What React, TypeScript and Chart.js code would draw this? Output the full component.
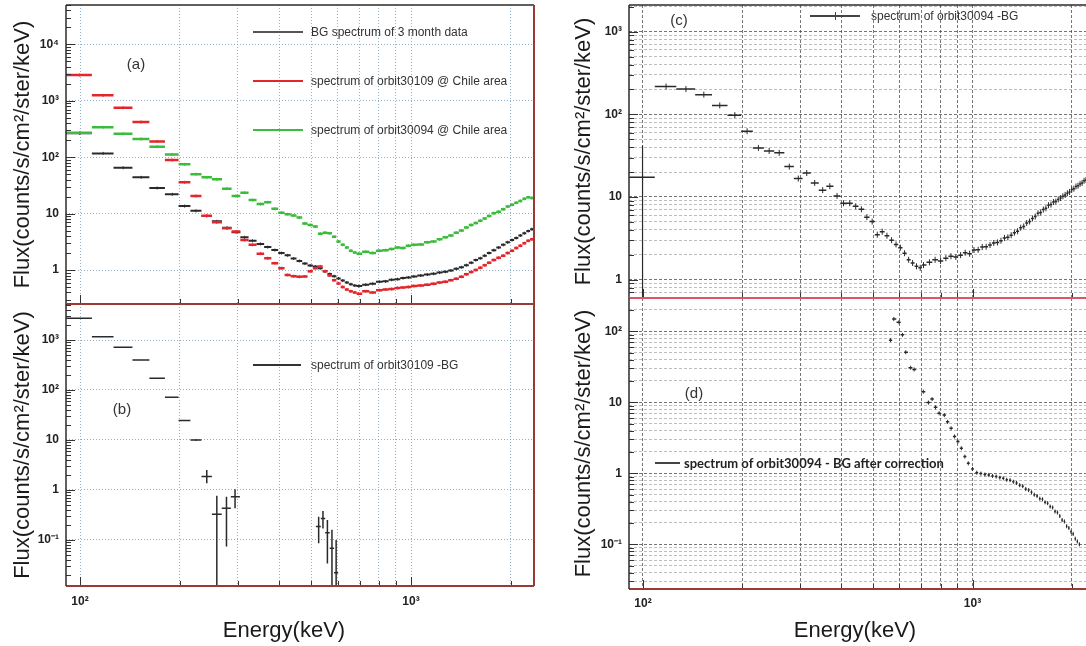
import React, { useEffect, useRef } from 'react';
import { Chart, registerables } from 'chart.js';

Chart.register(...registerables);

// ---------------- data ----------------
// Panel (a): bin centres (keV) shared by the three spectra
const energyA = [99.7, 117.5, 135, 153, 171, 190, 207, 224, 241.5, 259, 278, 296, 314, 332, 351, 369, 388, 406, 424, 442, 460, 478, 496, 514, 532, 550, 568, 586, 604, 622, 640, 658, 676, 694,
  730, 766, 802, 838, 874, 910, 946, 982, 1020, 1070, 1120, 1170, 1220, 1270, 1320, 1370, 1420, 1470, 1520, 1570, 1620, 1670, 1720, 1780, 1840, 1900, 1960, 2020, 2080, 2140, 2200, 2260, 2320];
const bgFlux = [265, 117, 65, 44, 28.4, 22, 13.6, 11.2, 9.1, 7.3, 5.6, 4.7, 3.8, 3.3, 2.9, 2.55, 2.26, 2.0, 1.82, 1.6, 1.45, 1.3, 1.2, 1.15, 1.08, 0.95, 0.85, 0.78, 0.71, 0.65, 0.6, 0.56, 0.53, 0.52,
  0.55, 0.57, 0.62, 0.63, 0.67, 0.69, 0.72, 0.74, 0.77, 0.8, 0.83, 0.86, 0.9, 0.93, 0.98, 1.05, 1.12, 1.22, 1.35, 1.5, 1.62, 1.8, 2.0, 2.25, 2.5, 2.8, 3.1, 3.4, 3.7, 4.1, 4.5, 4.9, 5.3];
const orbit30109Flux = [2870, 1250, 755, 421, 191, 89, 36, 20.5, 9.2, 7.0, 5.5, 4.8, 3.4, 2.8, 1.95, 1.62, 1.32, 1.08, 0.82, 0.78, 0.76, 0.77, 0.95, 1.08, 1.16, 0.95, 0.8, 0.66, 0.58, 0.5, 0.45, 0.42, 0.4, 0.38,
  0.42, 0.4, 0.44, 0.45, 0.46, 0.48, 0.49, 0.5, 0.52, 0.53, 0.55, 0.57, 0.6, 0.62, 0.66, 0.7, 0.76, 0.84, 0.92, 1.0, 1.1, 1.22, 1.35, 1.5, 1.65, 1.8, 2.0, 2.2, 2.45, 2.7, 3.0, 3.3, 3.5];
const orbit30094Flux = [272, 339, 261, 210, 153, 112, 75, 50, 44, 40.6, 27.7, 20.5, 23.5, 17.4, 14.8, 15.9, 12.2, 10.4, 9.8, 9.3, 8.5, 6.7, 6.3, 5.9, 4.4, 4.6, 4.5, 3.9, 3.2, 2.8, 2.5, 2.2, 2.05, 1.95,
  2.1, 2.0, 2.2, 2.25, 2.35, 2.5, 2.45, 2.7, 2.8, 2.85, 3.1, 3.2, 3.5, 3.8, 4.1, 4.6, 5.0, 5.7, 6.3, 6.8, 7.5, 8.2, 9.1, 10.2, 10.8, 12.0, 13.4, 14.4, 15.6, 16.8, 18.3, 19.5, 19.0];

// Panel (b): orbit30109 - BG
const energyB = [99.7, 117.5, 135, 153, 171, 190, 207, 224, 241.5, 259, 277, 294, 526, 542, 559, 577, 594];
const diff30109Flux = [2720, 1165, 713, 398, 171, 71.4, 24.4, 10, 1.85, 0.326, 0.43, 0.735, 0.185, 0.27, 0.14, 0.068, 0.022];
const diff30109Low = [2720, 1165, 713, 398, 171, 71.4, 24.4, 9.6, 1.36, 0.005, 0.074, 0.43, 0.086, 0.17, 0.034, 0.005, 0.005];
const diff30109High = [2720, 1165, 713, 398, 171, 71.4, 24.4, 10.4, 2.5, 0.77, 0.735, 1.03, 0.29, 0.38, 0.25, 0.16, 0.1];

// Panel (c): orbit30094 - BG
const energyC = [99.7, 117.5, 135, 153, 171, 190, 207, 224, 241.5, 259, 278, 296, 314, 332, 351, 369, 388, 406, 424, 442, 460, 478, 496, 514, 532, 550, 568, 586, 604, 622, 640, 658, 676, 694,
  710, 740, 770, 800, 830, 860, 890, 920, 950, 980, 1010, 1040, 1070, 1100, 1130, 1160, 1190, 1220, 1250, 1280, 1310, 1340, 1370, 1400, 1430, 1460, 1490, 1520, 1550, 1580, 1610, 1640, 1670, 1700,
  1730, 1760, 1790, 1820, 1850, 1880, 1910, 1940, 1970, 2000, 2030, 2060, 2090, 2120, 2150, 2180, 2210, 2240, 2270, 2300, 2330];
const diff30094Flux = [17.3, 217, 202, 173, 128, 97.7, 62.4, 39.2, 36, 34.2, 23.3, 16.7, 19.5, 14.8, 12.1, 13.5, 10.3, 8.4, 8.4, 7.7, 7.1, 5.7, 5.05, 3.5, 3.8, 3.4, 3.0, 2.67, 2.44, 2.09, 1.74, 1.59, 1.45, 1.39,
  1.5, 1.62, 1.74, 1.68, 1.82, 1.92, 1.88, 1.98, 2.12, 2.06, 2.28, 2.3, 2.48, 2.5, 2.62, 2.78, 2.82, 2.96, 3.2, 3.25, 3.45, 3.7, 3.85, 4.25, 4.4, 4.85, 5.05, 5.5, 5.8, 6.35, 6.5, 7.05, 7.3, 7.95,
  8.1, 8.7, 8.8, 9.35, 9.7, 10.2, 10.6, 11.1, 11.5, 12.3, 12.6, 13.4, 13.7, 14.4, 14.8, 15.7, 16.1, 16.9, 17.3, 18.1, 18.6];
const diff30094ErrEnergy = [99.7];
const diff30094ErrLow = [0.3];
const diff30094ErrHigh = [42];

// Panel (d): orbit30094 - BG after correction
const energyD = [564, 577, 598, 613, 627, 649, 665, 709, 735, 754, 772, 792, 821, 840, 861, 882, 903, 925, 948, 971,
  1000, 1030, 1060, 1090, 1120, 1150, 1180, 1210, 1240, 1270, 1300, 1330, 1360, 1390, 1420, 1450, 1480, 1510, 1540, 1570,
  1600, 1630, 1660, 1690, 1720, 1750, 1780, 1810, 1840, 1870, 1900, 1930, 1960, 1990, 2020, 2050, 2080, 2110];
const corrected30094Flux = [75, 149, 134, 89, 50.6, 30.7, 29, 14.1, 9.9, 11.1, 8.5, 7.0, 6.6, 5.3, 4.3, 3.3, 2.8, 2.25, 1.72, 1.38,
  1.15, 1.02, 0.99, 0.96, 0.95, 0.92, 0.9, 0.87, 0.85, 0.81, 0.8, 0.76, 0.73, 0.68, 0.66, 0.6, 0.58, 0.54, 0.5, 0.48,
  0.44, 0.43, 0.39, 0.38, 0.34, 0.33, 0.29, 0.28, 0.25, 0.22, 0.21, 0.18, 0.17, 0.15, 0.14, 0.12, 0.11, 0.1];

// axes
const xGridValues = [100, 200, 300, 400, 500, 600, 700, 800, 900, 1000, 2000];
const xTickLabels: Record<string, string> = { '100': '10²', '1000': '10³' };
const yDecadeLabels: Record<string, string> = { '0.1': '10⁻¹', '1': '1', '10': '10', '100': '10²', '1000': '10³', '10000': '10⁴' };
const yTicksA = [1, 10, 100, 1000, 10000];
const yTicksB = [0.1, 1, 10, 100, 1000];
const yTitle = 'Flux(counts/s/cm²/ster/keV)';
const xTitle = 'Energy(keV)';

// ---------------- helpers ----------------
const FONT = '"Liberation Sans", Arial, Helvetica, sans-serif';
const X_MIN = 90.7;
const X_MAX = 2353;

function isDecade(v: number) {
  const l = Math.log10(v);
  return Math.abs(l - Math.round(l)) < 1e-9;
}

function logGridValues(min: number, max: number): number[] {
  const out: number[] = [];
  for (let e = Math.floor(Math.log10(min)); e <= Math.ceil(Math.log10(max)); e++) {
    for (let k = 1; k <= 9; k++) {
      const v = k * Math.pow(10, e);
      if (v >= min && v <= max) out.push(v);
    }
  }
  return out;
}

function binSegments(energy: number[], flux: number[], maxHalf: number) {
  const pts: { x: number; y: number | null }[] = [];
  for (let i = 0; i < energy.length; i++) {
    const prev = i > 0 ? energy[i - 1] : null;
    const next = i < energy.length - 1 ? energy[i + 1] : null;
    let lo = prev !== null ? (energy[i] - prev) / 2 : ((next as number) - energy[i]) / 2;
    let hi = next !== null ? (next - energy[i]) / 2 : lo;
    lo = Math.min(lo, maxHalf);
    hi = Math.min(hi, maxHalf);
    pts.push({ x: energy[i] - lo, y: flux[i] }, { x: energy[i] + hi, y: flux[i] }, { x: energy[i] + hi, y: null });
  }
  return pts;
}

function errorSegments(energy: number[], low: number[], high: number[]) {
  const pts: { x: number; y: number | null }[] = [];
  for (let i = 0; i < energy.length; i++) {
    if (high[i] <= low[i]) continue;
    pts.push({ x: energy[i], y: low[i] }, { x: energy[i], y: high[i] }, { x: energy[i], y: null });
  }
  return pts;
}

function segDataset(energy: number[], flux: number[], maxHalf: number, color: string, width: number) {
  return {
    type: 'line' as const,
    data: binSegments(energy, flux, maxHalf),
    borderColor: color,
    borderWidth: width,
    pointRadius: 0,
    spanGaps: false,
    fill: false,
    tension: 0,
  };
}

function errDataset(energy: number[], low: number[], high: number[], color: string, width: number) {
  return {
    type: 'line' as const,
    data: errorSegments(energy, low, high),
    borderColor: color,
    borderWidth: width,
    pointRadius: 0,
    spanGaps: false,
    fill: false,
    tension: 0,
  };
}

function markDataset(energy: number[], flux: number[], color: string, radius: number) {
  return {
    type: 'line' as const,
    data: energy.map((e, i) => ({ x: e, y: flux[i] })),
    showLine: false,
    pointStyle: 'line' as const,
    rotation: 90,
    pointRadius: radius,
    borderColor: color,
    pointBorderColor: color,
    pointBorderWidth: 1,
  };
}

const framePlugin = {
  id: 'frame',
  afterDraw(chart: any, _args: any, opts: any) {
    const { ctx, chartArea: a } = chart;
    const line = (c: any, x1: number, y1: number, x2: number, y2: number) => {
      if (!c) return;
      ctx.save();
      ctx.strokeStyle = c[0];
      ctx.lineWidth = c[1];
      ctx.beginPath();
      ctx.moveTo(x1, y1);
      ctx.lineTo(x2, y2);
      ctx.stroke();
      ctx.restore();
    };
    line(opts.top, a.left, a.top, a.right, a.top);
    line(opts.right, a.right, a.top, a.right, a.bottom);
    line(opts.bottom, a.left, a.bottom, a.right, a.bottom);
    line(opts.left, a.left, a.top, a.left, a.bottom);
  },
};

const innerTicksPlugin = {
  id: 'innerTicks',
  afterDatasetsDraw(chart: any, _args: any, opts: any) {
    const { ctx, chartArea: a } = chart;
    const y = chart.scales.y;
    const x = chart.scales.x;
    ctx.save();
    ctx.strokeStyle = opts.color || '#333';
    ctx.lineWidth = 1;
    for (const v of logGridValues(y.min, y.max)) {
      const py = Math.round(y.getPixelForValue(v)) + 0.5;
      const len = isDecade(v) ? 9 : 5;
      ctx.beginPath();
      ctx.moveTo(a.left, py);
      ctx.lineTo(a.left + len, py);
      ctx.stroke();
    }
    for (const v of logGridValues(x.min, x.max)) {
      const px = Math.round(x.getPixelForValue(v)) + 0.5;
      const len = isDecade(v) ? 9 : 5;
      ctx.beginPath();
      ctx.moveTo(px, a.bottom);
      ctx.lineTo(px, a.bottom - len);
      ctx.stroke();
    }
    ctx.restore();
  },
};

interface PanelOpts {
  datasets: any[];
  yMin: number;
  yMax: number;
  yTicks: number[];
  padTop: number;
  xHeight: number;
  showX: boolean;
  xPad: number;
  titlePad: number;
  dense: boolean;
  frame: any;
}

function makeConfig(p: PanelOpts): any {
  const gridA = 'rgba(105,150,180,0.75)';
  const hMajor = p.dense ? 'rgba(70,70,70,0.75)' : gridA;
  const hMinor = 'rgba(110,110,110,0.45)';
  const vColor = p.dense ? 'rgba(60,60,60,0.7)' : gridA;
  return {
    type: 'line',
    data: { datasets: p.datasets },
    plugins: [innerTicksPlugin, framePlugin],
    options: {
      responsive: false,
      animation: false,
      events: [],
      layout: { padding: { top: p.padTop, right: 6, left: 0, bottom: 0 } },
      plugins: {
        legend: { display: false },
        tooltip: { enabled: false },
        frame: p.frame,
        innerTicks: { color: '#333' },
      },
      scales: {
        x: {
          type: 'logarithmic',
          min: X_MIN,
          max: X_MAX,
          afterBuildTicks: (s: any) => {
            s.ticks = xGridValues.map((v) => ({ value: v }));
          },
          afterFit: (s: any) => {
            s.height = p.xHeight;
            s.paddingLeft = 0;
            s.paddingRight = 0;
          },
          ticks: {
            display: p.showX,
            autoSkip: false,
            maxRotation: 0,
            padding: p.xPad,
            color: '#222',
            font: { family: FONT, size: 12, weight: 'bold' },
            callback: (v: any) => xTickLabels[String(v)] ?? '',
          },
          grid: { color: vColor, lineWidth: 1, drawTicks: false },
          border: { display: false, dash: p.dense ? [3, 2] : [1, 2] },
        },
        y: {
          type: 'logarithmic',
          min: p.yMin,
          max: p.yMax,
          afterBuildTicks: (s: any) => {
            s.ticks = p.yTicks.map((v) => ({ value: v }));
          },
          afterFit: (s: any) => {
            s.width = 66;
            s.paddingTop = 0;
            s.paddingBottom = 0;
          },
          ticks: {
            autoSkip: false,
            padding: 7,
            color: '#222',
            font: { family: FONT, size: 12, weight: 'bold' },
            callback: (v: any) => yDecadeLabels[String(v)] ?? '',
          },
          grid: {
            color: (ctx: any) => (isDecade(ctx.tick.value) ? hMajor : hMinor),
            lineWidth: 1,
            drawTicks: false,
          },
          border: { display: false, dash: p.dense ? [3, 2] : [1, 2] },
          title: {
            display: true,
            text: yTitle,
            color: '#1a1a1a',
            font: { family: FONT, size: 22 },
            padding: { top: p.titlePad, bottom: 0 },
          },
        },
      },
    },
  };
}

function Panel(props: { left: number; top: number; width: number; height: number; cfg: () => any }) {
  const ref = useRef<HTMLCanvasElement>(null);
  useEffect(() => {
    const chart = new Chart(ref.current as HTMLCanvasElement, props.cfg());
    return () => chart.destroy();
  }, []);
  return (
    <canvas
      ref={ref}
      width={props.width}
      height={props.height}
      style={{ position: 'absolute', left: props.left, top: props.top, width: props.width, height: props.height }}
    />
  );
}

function Txt(props: { x: number; y: number; size: number; text: string; bold?: boolean; family?: string; center?: boolean; color?: string }) {
  return (
    <div
      style={{
        position: 'absolute',
        left: props.x,
        top: props.y,
        transform: props.center ? 'translate(-50%, -50%)' : 'translate(0, -50%)',
        fontFamily: props.family || FONT,
        fontSize: props.size,
        fontWeight: props.bold ? 700 : 400,
        color: props.color || '#222',
        whiteSpace: 'nowrap',
        lineHeight: 1,
      }}
    >
      {props.text}
    </div>
  );
}

function Swatch(props: { x: number; y: number; w: number; color: string; h?: number }) {
  return (
    <div style={{ position: 'absolute', left: props.x, top: props.y - 1, width: props.w, height: props.h || 2, background: props.color }} />
  );
}

const RED = '#e3262c';
const GREEN = '#3dbb3d';
const BLACK = '#2a2a2a';

export default function App() {
  const frameDark: [string, number] = ['#2e2a2a', 1.5];
  const frameRed: [string, number] = ['#9a3a34', 2];
  const framePink: [string, number] = ['#e2506a', 2];

  const cfgA = () =>
    makeConfig({
      datasets: [
        segDataset(energyA, orbit30094Flux, Infinity, GREEN, 2.5),
        markDataset(energyA, orbit30094Flux, GREEN, 1.5),
        segDataset(energyA, orbit30109Flux, Infinity, RED, 2.5),
        markDataset(energyA, orbit30109Flux, RED, 1.5),
        segDataset(energyA, bgFlux, Infinity, BLACK, 2),
        markDataset(energyA, bgFlux, BLACK, 1.5),
      ],
      yMin: 0.25,
      yMax: 50000,
      yTicks: yTicksA,
      padTop: 5,
      xHeight: 6,
      showX: false,
      xPad: 0,
      titlePad: 10,
      dense: false,
      frame: { top: frameDark, left: frameDark, right: frameRed, bottom: frameRed },
    });

  const cfgB = () =>
    makeConfig({
      datasets: [
        segDataset(energyB, diff30109Flux, 10, BLACK, 1.5),
        errDataset(energyB, diff30109Low, diff30109High, BLACK, 1.5),
      ],
      yMin: 0.012,
      yMax: 5250,
      yTicks: yTicksB,
      padTop: 14,
      xHeight: 60,
      showX: true,
      xPad: 8,
      titlePad: 10,
      dense: false,
      frame: { top: frameRed, left: frameDark, right: frameRed, bottom: frameRed },
    });

  const cfgC = () =>
    makeConfig({
      datasets: [
        segDataset(energyC, diff30094Flux, Infinity, BLACK, 1.5),
        markDataset(energyC, diff30094Flux, BLACK, 3),
        errDataset(diff30094ErrEnergy, diff30094ErrLow, diff30094ErrHigh, BLACK, 1.2),
      ],
      yMin: 0.646,
      yMax: 2100,
      yTicks: logGridValues(0.646, 2100),
      padTop: 2,
      xHeight: 6,
      showX: false,
      xPad: 0,
      titlePad: 8,
      dense: true,
      frame: { top: frameDark, left: frameDark, right: frameDark, bottom: framePink },
    });

  const cfgD = () =>
    makeConfig({
      datasets: [
        segDataset(energyD, corrected30094Flux, 10, BLACK, 1.5),
        markDataset(energyD, corrected30094Flux, BLACK, 2),
      ],
      yMin: 0.0235,
      yMax: 294,
      yTicks: logGridValues(0.0235, 294),
      padTop: 8,
      xHeight: 57,
      showX: true,
      xPad: 7,
      titlePad: 8,
      dense: true,
      frame: { top: framePink, left: frameDark, right: frameDark, bottom: frameRed },
    });

  return (
    <div style={{ position: 'fixed', left: 0, top: 0, width: 1086, height: 646, overflow: 'hidden', background: '#fff' }}>
      <Panel left={0} top={0} width={540} height={310} cfg={cfgA} />
      <Panel left={0} top={290} width={540} height={356} cfg={cfgB} />
      <Panel left={563} top={0} width={538} height={304} cfg={cfgC} />
      <Panel left={563} top={290} width={538} height={356} cfg={cfgD} />

      {/* panel (a) legend */}
      <Swatch x={253} y={32} w={50} color="#555" />
      <Txt x={311} y={32} size={12} text="BG spectrum of 3 month data" color="#333" />
      <Swatch x={253} y={81} w={50} color={RED} />
      <Txt x={311} y={81} size={12} text="spectrum of orbit30109 @ Chile area" color="#333" />
      <Swatch x={253} y={130} w={50} color={GREEN} />
      <Txt x={311} y={130} size={12} text="spectrum of orbit30094 @ Chile area" color="#333" />
      <Txt x={136} y={63} size={15} text="(a)" center color="#333" />

      {/* panel (b) legend */}
      <Swatch x={253} y={365} w={48} color="#333" h={1.5} />
      <Txt x={311} y={365} size={12} text="spectrum of orbit30109 -BG" color="#333" />
      <Txt x={122} y={408} size={15} text="(b)" center color="#333" />

      {/* panel (c) legend */}
      <Swatch x={810} y={16} w={50} color="#444" h={1.5} />
      <div style={{ position: 'absolute', left: 835, top: 12, width: 1, height: 8, background: '#444' }} />
      <Txt x={871} y={16} size={12} text="spectrum of orbit30094 -BG" color="#333" />
      <Txt x={679} y={19} size={15} text="(c)" center color="#333" />

      {/* panel (d) legend */}
      <Swatch x={655} y={463} w={25} color="#444" h={1.5} />
      <Txt x={684} y={463} size={13} text="spectrum of orbit30094 - BG after correction" bold family='Lato, "Liberation Sans", sans-serif' color="#222" />
      <Txt x={694} y={392} size={15} text="(d)" center color="#333" />

      {/* x-axis titles */}
      <Txt x={284} y={630} size={22} text={xTitle} center color="#1a1a1a" />
      <Txt x={855} y={630} size={22} text={xTitle} center color="#1a1a1a" />
    </div>
  );
}
